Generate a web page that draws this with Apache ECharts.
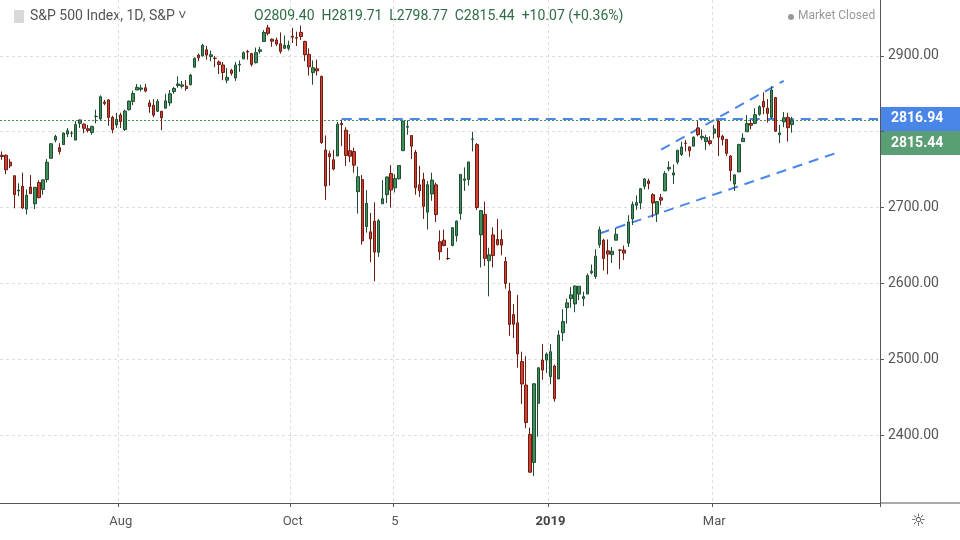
<!DOCTYPE html>
<html>
<head>
<meta charset="utf-8">
<script src="https://cdn.jsdelivr.net/npm/echarts@6/dist/echarts.min.js"></script>
<style>
  html, body { margin: 0; padding: 0; background: #fff; }
  #chart { width: 960px; height: 540px; }
</style>
</head>
<body>
<div id="chart"></div>
<script>
// S&P 500 daily candles, 2018-06-20 .. 2019-03-28
var dates = [
  '2018-06-20','2018-06-21','2018-06-22','2018-06-25','2018-06-26','2018-06-27','2018-06-28','2018-06-29',
  '2018-07-02','2018-07-03','2018-07-05','2018-07-06','2018-07-09','2018-07-10','2018-07-11','2018-07-12','2018-07-13',
  '2018-07-16','2018-07-17','2018-07-18','2018-07-19','2018-07-20','2018-07-23','2018-07-24','2018-07-25','2018-07-26',
  '2018-07-27','2018-07-30','2018-07-31',
  '2018-08-01','2018-08-02','2018-08-03','2018-08-06','2018-08-07','2018-08-08','2018-08-09','2018-08-10','2018-08-13',
  '2018-08-14','2018-08-15','2018-08-16','2018-08-17','2018-08-20','2018-08-21','2018-08-22','2018-08-23','2018-08-24',
  '2018-08-27','2018-08-28','2018-08-29','2018-08-30','2018-08-31',
  '2018-09-04','2018-09-05','2018-09-06','2018-09-07','2018-09-10','2018-09-11','2018-09-12','2018-09-13','2018-09-14',
  '2018-09-17','2018-09-18','2018-09-19','2018-09-20','2018-09-21','2018-09-24','2018-09-25','2018-09-26','2018-09-27',
  '2018-09-28',
  '2018-10-01','2018-10-02','2018-10-03','2018-10-04','2018-10-05','2018-10-08','2018-10-09','2018-10-10','2018-10-11',
  '2018-10-12','2018-10-15','2018-10-16','2018-10-17','2018-10-18','2018-10-19','2018-10-22','2018-10-23','2018-10-24',
  '2018-10-25','2018-10-26','2018-10-29','2018-10-30','2018-10-31',
  '2018-11-01','2018-11-02','2018-11-05','2018-11-06','2018-11-07','2018-11-08','2018-11-09','2018-11-12','2018-11-13',
  '2018-11-14','2018-11-15','2018-11-16','2018-11-19','2018-11-20','2018-11-21','2018-11-23','2018-11-26','2018-11-27',
  '2018-11-28','2018-11-29','2018-11-30',
  '2018-12-03','2018-12-04','2018-12-06','2018-12-07','2018-12-10','2018-12-11','2018-12-12','2018-12-13','2018-12-14',
  '2018-12-17','2018-12-18','2018-12-19','2018-12-20','2018-12-21','2018-12-24','2018-12-26','2018-12-27','2018-12-28',
  '2018-12-31',
  '2019-01-02','2019-01-03','2019-01-04','2019-01-07','2019-01-08','2019-01-09','2019-01-10','2019-01-11','2019-01-14',
  '2019-01-15','2019-01-16','2019-01-17','2019-01-18','2019-01-22','2019-01-23','2019-01-24','2019-01-25','2019-01-28',
  '2019-01-29','2019-01-30','2019-01-31',
  '2019-02-01','2019-02-04','2019-02-05','2019-02-06','2019-02-07','2019-02-08','2019-02-11','2019-02-12','2019-02-13',
  '2019-02-14','2019-02-15','2019-02-19','2019-02-20','2019-02-21','2019-02-22','2019-02-25','2019-02-26','2019-02-27',
  '2019-02-28',
  '2019-03-01','2019-03-04','2019-03-05','2019-03-06','2019-03-07','2019-03-08','2019-03-11','2019-03-12','2019-03-13',
  '2019-03-14','2019-03-15','2019-03-18','2019-03-19','2019-03-20','2019-03-21','2019-03-22','2019-03-25','2019-03-26',
  '2019-03-27','2019-03-28'
];

// [open, high, low, close]
var ohlc = [
  [2769,2774,2763,2767.3],[2769,2770,2744,2749.8],[2760,2764,2752,2754.9],[2742,2742,2699,2717.1],
  [2722,2732,2715,2723.1],[2728,2746,2698,2699.6],[2698,2724,2691,2716.3],[2727,2743,2718,2718.4],
  [2705,2727,2698,2726.7],[2733,2736,2712,2713.2],[2724,2737,2717,2736.6],[2737,2764,2733,2759.8],
  [2765,2784,2765,2784.2],[2789,2796,2786,2793.8],[2779,2785,2770,2774.0],[2783,2799,2783,2798.3],
  [2797,2805,2793,2801.3],[2798,2801,2793,2798.4],[2789,2814,2789,2809.6],[2811,2816,2805,2815.6],
  [2810,2811,2798,2804.5],[2804,2809,2799,2801.8],[2799,2808,2796,2807.0],[2820,2829,2811,2820.4],
  [2817,2848,2815,2846.1],[2839,2842,2835,2837.4],[2842,2843,2808,2818.8],[2819,2821,2798,2802.6],
  [2809,2825,2805,2816.3],
  [2822,2825,2805,2813.4],[2803,2829,2801,2827.2],[2829,2841,2828,2840.4],[2840,2854,2835,2850.4],
  [2855,2863,2855,2858.5],[2856,2862,2853,2857.7],[2858,2863,2852,2853.6],[2838,2842,2825,2833.3],
  [2835,2843,2819,2821.9],[2827,2843,2826,2840.0],[2827,2827,2802,2818.4],[2831,2850,2831,2840.7],
  [2838,2855,2834,2850.1],[2853,2859,2850,2857.1],[2861,2873,2858,2863.0],[2860,2867,2857,2861.8],
  [2860,2868,2854,2857.0],[2862,2876,2861,2874.7],[2885,2898,2885,2896.7],[2901,2903,2893,2897.5],
  [2900,2916,2899,2914.0],[2908,2913,2895,2901.1],[2899,2907,2893,2901.5],
  [2897,2900,2885,2896.7],[2892,2894,2876,2888.6],[2888,2892,2868,2878.1],[2868,2884,2864,2871.7],
  [2881,2883,2874,2877.1],[2871,2892,2867,2887.9],[2888,2894,2879,2888.9],[2896,2906,2896,2904.2],
  [2906,2908,2895,2905.0],[2903,2904,2886,2888.8],[2891,2911,2890,2904.3],[2906,2912,2903,2908.0],
  [2919,2934,2919,2930.8],[2937,2941,2927,2929.7],[2922,2923,2912,2919.4],[2921,2924,2913,2915.6],
  [2916,2931,2903,2906.0],[2910,2927,2909,2914.0],[2910,2920,2907,2914.0],
  [2926,2937,2917,2924.6],[2924,2932,2913,2923.4],[2931,2940,2921,2925.5],[2919,2920,2893,2901.6],
  [2902,2910,2874,2885.6],[2878,2894,2862,2884.4],[2883,2895,2874,2880.3],[2873,2874,2784,2785.7],
  [2776,2795,2710,2728.4],[2771,2775,2729,2767.1],[2763,2776,2749,2750.8],[2768,2813,2768,2809.9],
  [2811,2816,2781,2809.2],[2802,2806,2755,2768.8],[2775,2797,2760,2767.8],[2774,2779,2746,2755.9],
  [2721,2754,2692,2740.7],[2737,2743,2651,2656.1],[2675,2723,2667,2705.6],[2668,2693,2628,2658.7],
  [2682,2707,2603,2641.3],[2641,2685,2635,2682.6],[2705,2736,2705,2711.7],
  [2717,2741,2706,2740.4],[2745,2756,2700,2723.1],[2726,2744,2720,2738.3],[2738,2756,2737,2755.5],
  [2775,2815,2775,2813.9],[2806,2815,2796,2806.8],[2795,2795,2764,2781.0],[2773,2776,2717,2726.2],
  [2730,2755,2714,2722.2],[2737,2746,2685,2701.6],[2694,2735,2671,2730.2],[2718,2746,2709,2736.3],
  [2730,2733,2681,2690.7],[2655,2670,2631,2641.9],[2657,2671,2649,2649.9],[2633,2647,2631,2632.6],
  [2650,2674,2649,2673.5],[2663,2683,2655,2682.2],[2692,2744,2684,2743.8],[2736,2753,2722,2737.8],
  [2737,2760,2729,2760.2],
  [2790,2800,2774,2790.4],[2783,2785,2697,2700.1],[2664,2696,2621,2696.0],[2691,2708,2623,2633.1],
  [2630,2647,2583,2637.7],[2664,2674,2621,2636.8],[2658,2685,2650,2651.1],[2658,2671,2637,2650.5],
  [2629,2635,2593,2600.0],[2590,2601,2531,2545.9],[2559,2573,2528,2546.2],[2548,2585,2489,2507.0],
  [2497,2510,2441,2467.4],[2466,2504,2409,2416.6],[2401,2410,2351,2351.1],[2364,2467,2346,2467.7],
  [2442,2489,2398,2488.8],[2499,2520,2473,2485.7],[2499,2509,2482,2506.9],
  [2477,2520,2467,2510.0],[2491,2493,2444,2447.9],[2474,2538,2474,2531.9],[2535,2566,2524,2549.7],
  [2568,2580,2547,2574.4],[2580,2595,2568,2585.0],[2573,2597,2562,2596.6],[2586,2596,2578,2596.3],
  [2580,2589,2570,2582.6],[2586,2613,2586,2610.3],[2614,2625,2612,2616.1],[2609,2645,2606,2636.0],
  [2651,2675,2647,2670.7],[2657,2659,2617,2632.9],[2643,2658,2612,2638.7],[2638,2648,2627,2642.3],
  [2657,2673,2657,2664.8],[2644,2645,2619,2643.9],[2644,2650,2631,2640.0],[2653,2690,2648,2681.1],
  [2685,2708,2677,2704.1],
  [2703,2716,2697,2706.5],[2706,2724,2698,2724.9],[2728,2739,2724,2737.7],[2735,2738,2724,2731.6],
  [2717,2719,2687,2706.1],[2692,2708,2681,2707.9],[2713,2718,2703,2709.8],[2722,2748,2722,2744.7],
  [2751,2761,2748,2753.0],[2743,2757,2731,2745.7],[2760,2776,2757,2775.6],[2770,2787,2768,2779.8],
  [2785,2789,2774,2784.7],[2780,2781,2767,2774.9],[2781,2794,2781,2792.7],[2805,2814,2794,2796.1],
  [2792,2803,2789,2793.9],[2787,2796,2776,2792.4],[2788,2794,2782,2784.5],
  [2798,2809,2791,2803.7],[2814,2816,2768,2792.8],[2794,2796,2782,2789.7],[2790,2790,2768,2771.5],
  [2768,2769,2735,2748.9],[2731,2744,2722,2743.1],[2747,2784,2747,2783.3],[2787,2798,2787,2791.5],
  [2800,2822,2800,2810.9],[2811,2816,2803,2808.5],[2811,2831,2810,2822.5],[2823,2835,2821,2832.9],
  [2840,2852,2823,2832.6],[2831,2843,2812,2824.2],[2819,2860,2817,2854.9],[2845,2846,2800,2800.7],
  [2796,2809,2785,2798.4],[2813,2826,2806,2818.5],[2819,2825,2787,2805.4],[2809.40,2819.71,2798.77,2815.44]
];

var priceTicks = [2400, 2500, 2600, 2700, 2800, 2900];
var priceLabels = [2400, 2500, 2600, 2700, 2900]; // 2800 sits under the price boxes
var axisLabels = {
  '2018-08-01': 'Aug', '2018-10-01': 'Oct', '2018-11-05': '5', '2019-01-02': '2019', '2019-03-01': 'Mar'
};
var resistance = 2816.94;
var lastClose = 2815.44;
var upperChannel = [[160.6, 2776.3], [191, 2867.1]];
var lowerChannel = [[145.7, 2665.8], [203.7, 2772.4]];
var emptySlots = 21;

var cats = dates.slice();
for (var i = 0; i < emptySlots; i++) cats.push('pad' + i);
var lastIdx = cats.length - 1;

// echarts candlestick order: [open, close, low, high]
var candles = ohlc.map(function(d) { return [d[0], d[3], d[2], d[1]]; });

function isMark(idx, val) { return axisLabels[val] !== undefined; }

var chart = echarts.init(document.getElementById('chart'));
var blue = '#4a86e8';
var dash = { color: blue, width: 2, type: [10, 7] };

var lines = priceTicks.map(function(p) {
  return { yAxis: p, lineStyle: { color: '#ddd', width: 1, type: [3, 3] } };
});
lines.push([{ coord: [82.6, resistance], lineStyle: dash }, { coord: [lastIdx, resistance] }]);
lines.push([{ coord: upperChannel[0], lineStyle: dash }, { coord: upperChannel[1] }]);
lines.push([{ coord: lowerChannel[0], lineStyle: dash }, { coord: lowerChannel[1] }]);
lines.push({ yAxis: lastClose, lineStyle: { color: '#3f8f5c', width: 1, type: [2, 2] } });

chart.setOption({
  animation: false,
  grid: { left: 0, right: 80, top: 0, bottom: 37 },
  xAxis: {
    type: 'category',
    data: cats,
    boundaryGap: true,
    axisLine: { show: true, lineStyle: { color: '#555', width: 1 } },
    axisTick: { show: true, interval: isMark, length: 4, lineStyle: { color: '#555' } },
    axisLabel: {
      interval: isMark,
      margin: 12,
      fontFamily: 'Roboto, sans-serif',
      fontSize: 13,
      color: '#555',
      formatter: function(v) {
        return v === '2019-01-02' ? '{b|2019}' : (axisLabels[v] || '');
      },
      rich: { b: { fontWeight: 'bold', fontSize: 13, color: '#444', fontFamily: 'Roboto, sans-serif' } }
    },
    splitLine: { show: true, interval: isMark, lineStyle: { color: '#ddd', type: [3, 3] } }
  },
  yAxis: {
    type: 'value',
    position: 'right',
    min: 2310.5,
    max: 2973.7,
    axisLine: { show: true, lineStyle: { color: '#555' } },
    axisTick: { show: true, length: 4, customValues: priceTicks, lineStyle: { color: '#555' } },
    axisLabel: {
      margin: 8,
      customValues: priceLabels,
      fontFamily: 'Roboto, sans-serif',
      fontSize: 14,
      color: '#555',
      formatter: function(v) { return Number(v).toFixed(2); }
    },
    splitLine: { show: false }
  },
  series: [{
    type: 'candlestick',
    data: candles,
    barWidth: '72%',
    itemStyle: {
      color: '#3f8f5c',
      color0: '#d4402f',
      borderColor: '#1f4d30',
      borderColor0: '#6b1c13',
      borderWidth: 1
    },
    markLine: {
      silent: true,
      symbol: 'none',
      z: 1,
      label: { show: false },
      data: lines
    }
  }],
  graphic: [
    { type: 'rect', left: 14, top: 10, shape: { width: 10, height: 13 }, style: { fill: '#d9d9d9' } },
    { type: 'text', left: 30, top: 9, style: { text: 'S&P 500 Index, 1D, S&P \u02C5', font: '14px Roboto, sans-serif', fill: '#555' } },
    { type: 'text', left: 254, top: 9, style: { text: 'O2809.40  H2819.71  L2798.77  C2815.44  +10.07 (+0.36%)', font: '14px Roboto, sans-serif', fill: '#2f6b45' } },
    { type: 'circle', shape: { cx: 791, cy: 17, r: 3 }, style: { fill: '#999' } },
    { type: 'text', left: 798, top: 10, style: { text: 'Market Closed', font: '12px Roboto, sans-serif', fill: '#999' } },
    { type: 'rect', left: 881, top: 107, shape: { width: 79, height: 25 }, style: { fill: blue } },
    { type: 'text', left: 891, top: 111, style: { text: '2816.94', font: 'bold 14px Roboto, sans-serif', fill: '#fff' } },
    { type: 'rect', left: 881, top: 131, shape: { width: 79, height: 24 }, style: { fill: '#5a9e75' } },
    { type: 'text', left: 891, top: 136, style: { text: '2815.44', font: 'bold 14px Roboto, sans-serif', fill: '#fff' } },
    { type: 'line', shape: { x1: 880, y1: 503, x2: 960, y2: 503 }, style: { stroke: '#555', lineWidth: 1 } },
    { type: 'text', left: 911, top: 513, style: { text: '\u263C', font: '17px "DejaVu Sans", sans-serif', fill: '#444' } }
  ]
});
</script>
</body>
</html>
